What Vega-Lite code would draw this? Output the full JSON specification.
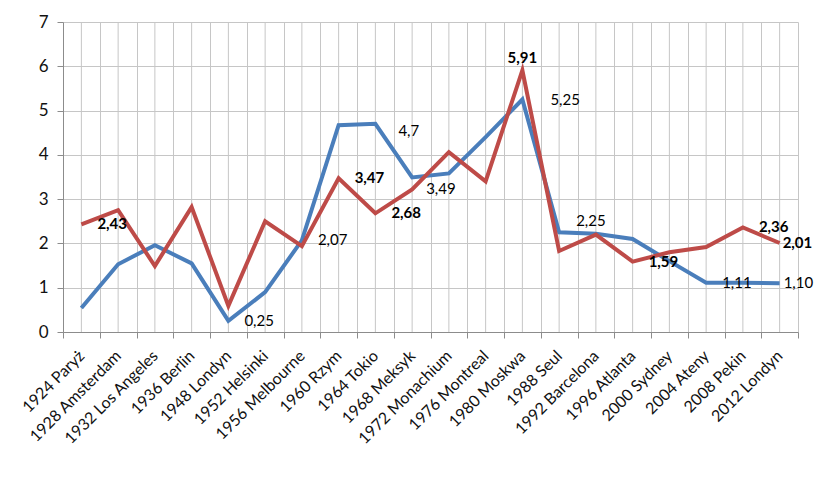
{
  "$schema": "https://vega.github.io/schema/vega-lite/v6.json",
  "width": 735,
  "height": 310,
  "autosize": {"type": "none"},
  "padding": {"left": 63, "top": 22, "right": 42, "bottom": 157},
  "background": "white",
  "config": {"view": {"stroke": null}},
  "data": {"values": [
    {"igrzyska": "1924 Paryż", "seria": "Seria 1", "wartosc": 0.54, "etykieta": null},
    {"igrzyska": "1928 Amsterdam", "seria": "Seria 1", "wartosc": 1.53, "etykieta": null},
    {"igrzyska": "1932 Los Angeles", "seria": "Seria 1", "wartosc": 1.96, "etykieta": null},
    {"igrzyska": "1936 Berlin", "seria": "Seria 1", "wartosc": 1.55, "etykieta": null},
    {"igrzyska": "1948 Londyn", "seria": "Seria 1", "wartosc": 0.25, "etykieta": "0,25"},
    {"igrzyska": "1952 Helsinki", "seria": "Seria 1", "wartosc": 0.9, "etykieta": null},
    {"igrzyska": "1956 Melbourne", "seria": "Seria 1", "wartosc": 2.07, "etykieta": "2,07"},
    {"igrzyska": "1960 Rzym", "seria": "Seria 1", "wartosc": 4.67, "etykieta": null},
    {"igrzyska": "1964 Tokio", "seria": "Seria 1", "wartosc": 4.7, "etykieta": "4,7"},
    {"igrzyska": "1968 Meksyk", "seria": "Seria 1", "wartosc": 3.49, "etykieta": "3,49"},
    {"igrzyska": "1972 Monachium", "seria": "Seria 1", "wartosc": 3.58, "etykieta": null},
    {"igrzyska": "1976 Montreal", "seria": "Seria 1", "wartosc": 4.4, "etykieta": null},
    {"igrzyska": "1980 Moskwa", "seria": "Seria 1", "wartosc": 5.25, "etykieta": "5,25"},
    {"igrzyska": "1988 Seul", "seria": "Seria 1", "wartosc": 2.25, "etykieta": "2,25"},
    {"igrzyska": "1992 Barcelona", "seria": "Seria 1", "wartosc": 2.22, "etykieta": null},
    {"igrzyska": "1996 Atlanta", "seria": "Seria 1", "wartosc": 2.1, "etykieta": null},
    {"igrzyska": "2000 Sydney", "seria": "Seria 1", "wartosc": 1.6, "etykieta": null},
    {"igrzyska": "2004 Ateny", "seria": "Seria 1", "wartosc": 1.11, "etykieta": "1,11"},
    {"igrzyska": "2008 Pekin", "seria": "Seria 1", "wartosc": 1.11, "etykieta": null},
    {"igrzyska": "2012 Londyn", "seria": "Seria 1", "wartosc": 1.10, "etykieta": "1,10"},
    {"igrzyska": "1924 Paryż", "seria": "Seria 2", "wartosc": 2.43, "etykieta": "2,43"},
    {"igrzyska": "1928 Amsterdam", "seria": "Seria 2", "wartosc": 2.75, "etykieta": null},
    {"igrzyska": "1932 Los Angeles", "seria": "Seria 2", "wartosc": 1.49, "etykieta": null},
    {"igrzyska": "1936 Berlin", "seria": "Seria 2", "wartosc": 2.82, "etykieta": null},
    {"igrzyska": "1948 Londyn", "seria": "Seria 2", "wartosc": 0.59, "etykieta": null},
    {"igrzyska": "1952 Helsinki", "seria": "Seria 2", "wartosc": 2.5, "etykieta": null},
    {"igrzyska": "1956 Melbourne", "seria": "Seria 2", "wartosc": 1.94, "etykieta": null},
    {"igrzyska": "1960 Rzym", "seria": "Seria 2", "wartosc": 3.47, "etykieta": "3,47"},
    {"igrzyska": "1964 Tokio", "seria": "Seria 2", "wartosc": 2.68, "etykieta": "2,68"},
    {"igrzyska": "1968 Meksyk", "seria": "Seria 2", "wartosc": 3.22, "etykieta": null},
    {"igrzyska": "1972 Monachium", "seria": "Seria 2", "wartosc": 4.06, "etykieta": null},
    {"igrzyska": "1976 Montreal", "seria": "Seria 2", "wartosc": 3.4, "etykieta": null},
    {"igrzyska": "1980 Moskwa", "seria": "Seria 2", "wartosc": 5.91, "etykieta": "5,91"},
    {"igrzyska": "1988 Seul", "seria": "Seria 2", "wartosc": 1.83, "etykieta": null},
    {"igrzyska": "1992 Barcelona", "seria": "Seria 2", "wartosc": 2.2, "etykieta": null},
    {"igrzyska": "1996 Atlanta", "seria": "Seria 2", "wartosc": 1.59, "etykieta": "1,59"},
    {"igrzyska": "2000 Sydney", "seria": "Seria 2", "wartosc": 1.8, "etykieta": null},
    {"igrzyska": "2004 Ateny", "seria": "Seria 2", "wartosc": 1.92, "etykieta": null},
    {"igrzyska": "2008 Pekin", "seria": "Seria 2", "wartosc": 2.36, "etykieta": "2,36"},
    {"igrzyska": "2012 Londyn", "seria": "Seria 2", "wartosc": 2.01, "etykieta": "2,01"}
  ]},
  "encoding": {
    "x": {
      "field": "igrzyska", "type": "nominal", "sort": null, "bandPosition": 0.5,
      "scale": {"type": "band", "paddingInner": 0, "paddingOuter": 0},
      "axis": {
        "title": null, "tickBand": "extent", "grid": true,
        "gridColor": "#c6c6c6", "domainColor": "#8c8c8c", "tickColor": "#8c8c8c",
        "tickSize": 6, "labelAngle": -45, "labelAlign": "right", "labelBaseline": "middle",
        "labelFont": "Lato", "labelFontSize": 16, "labelColor": "#111111",
        "labelPadding": 15, "labelOverlap": false, "labelBound": false
      }
    },
    "y": {
      "field": "wartosc", "type": "quantitative",
      "scale": {"domain": [0, 7], "nice": false, "zero": true},
      "axis": {
        "title": null, "values": [0, 1, 2, 3, 4, 5, 6, 7], "grid": true,
        "gridColor": "#c6c6c6", "gridWidth": 1,
        "domainColor": "#8c8c8c", "tickColor": "#8c8c8c", "tickSize": 6,
        "labelFont": "Lato", "labelFontSize": 17, "labelColor": "#111111",
        "labelPadding": 9
      }
    }
  },
  "layer": [
    {
      "transform": [{"filter": {"field": "seria", "equal": "Seria 1"}}],
      "mark": {"type": "rule", "color": "#c6c6c6", "strokeWidth": 1},
      "encoding": {"y": null}
    },
    {
      "mark": {"type": "line", "strokeWidth": 4},
      "encoding": {
        "color": {
          "field": "seria", "type": "nominal", "legend": null,
          "scale": {"domain": ["Seria 1", "Seria 2"], "range": ["#4A7EBB", "#BE4B48"]}
        }
      }
    },
    {
      "encoding": {"text": {"field": "etykieta"}},
      "layer": [
        {
          "transform": [{"filter": {"and": [{"field": "seria", "equal": "Seria 2"}, {"field": "igrzyska", "oneOf": ["1924 Paryż", "1960 Rzym", "1964 Tokio", "1996 Atlanta", "2008 Pekin"]}]}}],
          "mark": {"type": "text", "align": "left", "baseline": "middle", "dx": 16, "font": "Lato", "fontSize": 15, "fontWeight": "bold", "color": "#000000"}
        },
        {
          "transform": [{"filter": {"and": [{"field": "seria", "equal": "Seria 2"}, {"field": "igrzyska", "equal": "2012 Londyn"}]}}],
          "mark": {"type": "text", "align": "left", "baseline": "middle", "dx": 3, "font": "Lato", "fontSize": 15, "fontWeight": "bold", "color": "#000000"}
        },
        {
          "transform": [{"filter": {"and": [{"field": "seria", "equal": "Seria 2"}, {"field": "igrzyska", "equal": "1980 Moskwa"}]}}],
          "mark": {"type": "text", "align": "center", "baseline": "middle", "dy": -12, "font": "Lato", "fontSize": 15, "fontWeight": "bold", "color": "#000000"}
        },
        {
          "transform": [{"filter": {"and": [{"field": "seria", "equal": "Seria 1"}, {"field": "igrzyska", "oneOf": ["1948 Londyn", "1956 Melbourne", "2004 Ateny"]}]}}],
          "mark": {"type": "text", "align": "left", "baseline": "middle", "dx": 16, "font": "Lato", "fontSize": 15, "color": "#000000"}
        },
        {
          "transform": [{"filter": {"and": [{"field": "seria", "equal": "Seria 1"}, {"field": "igrzyska", "equal": "2012 Londyn"}]}}],
          "mark": {"type": "text", "align": "left", "baseline": "middle", "dx": 4, "font": "Lato", "fontSize": 15, "color": "#000000"}
        },
        {
          "transform": [{"filter": {"and": [{"field": "seria", "equal": "Seria 1"}, {"field": "igrzyska", "equal": "1964 Tokio"}]}}],
          "mark": {"type": "text", "align": "left", "baseline": "middle", "dx": 23, "dy": 7, "font": "Lato", "fontSize": 15, "color": "#000000"}
        },
        {
          "transform": [{"filter": {"and": [{"field": "seria", "equal": "Seria 1"}, {"field": "igrzyska", "equal": "1968 Meksyk"}]}}],
          "mark": {"type": "text", "align": "left", "baseline": "middle", "dx": 14, "dy": 12, "font": "Lato", "fontSize": 15, "color": "#000000"}
        },
        {
          "transform": [{"filter": {"and": [{"field": "seria", "equal": "Seria 1"}, {"field": "igrzyska", "equal": "1980 Moskwa"}]}}],
          "mark": {"type": "text", "align": "left", "baseline": "middle", "dx": 28, "font": "Lato", "fontSize": 15, "color": "#000000"}
        },
        {
          "transform": [{"filter": {"and": [{"field": "seria", "equal": "Seria 1"}, {"field": "igrzyska", "equal": "1988 Seul"}]}}],
          "mark": {"type": "text", "align": "left", "baseline": "middle", "dx": 17, "dy": -11, "font": "Lato", "fontSize": 15, "color": "#000000"}
        }
      ]
    }
  ]
}
